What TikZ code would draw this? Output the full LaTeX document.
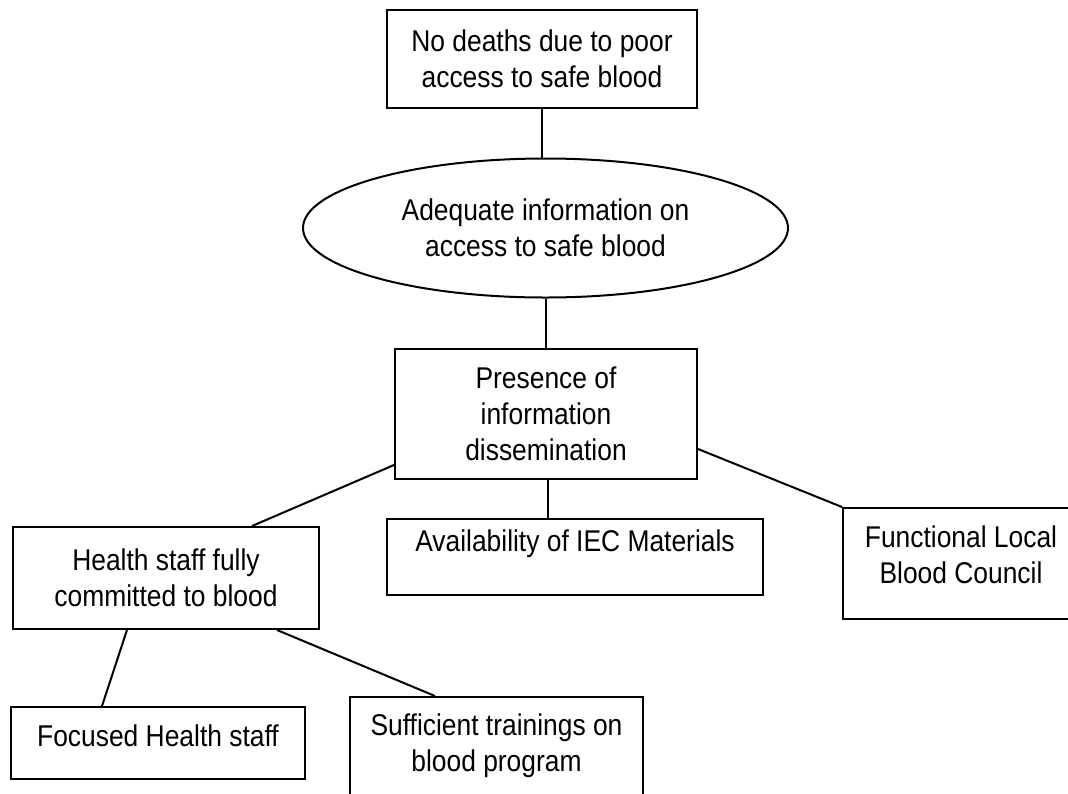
\documentclass[tikz,border=0pt]{standalone}
\usepackage{fontspec}
\setmainfont[FakeStretch=0.88]{Liberation Sans}
\usetikzlibrary{shapes.geometric}
\begin{document}
\begin{tikzpicture}[x=1pt,y=-1pt,
  every node/.style={font=\fontsize{30}{36}\selectfont, align=center, inner sep=0pt},
  box/.style={draw, line width=2pt, rectangle},
  oval/.style={draw, line width=2pt, ellipse},
  link/.style={line width=2pt}]
\useasboundingbox (0,0) rectangle (1068,793);
% boxes
\node[box, minimum width=310pt, minimum height=98pt] (top) at (542,59) {No deaths due to poor\\access to safe blood};
\node[oval, minimum width=485pt, minimum height=139pt] (ell) at (545.5,228) {Adequate information on\\access to safe blood};
\node[box, minimum width=302pt, minimum height=130pt] (pres) at (546,414) {Presence of\\information\\dissemination};
\node[box, minimum width=376pt, minimum height=76pt] (iec) at (575,557) {};
\node[anchor=center] (iecT) at (575,543.5) {Availability of IEC Materials};
\node[box, minimum width=236pt, minimum height=111pt] (func) at (961,563.5) {};
\node[anchor=center] (funcT) at (961,555) {Functional Local\\Blood Council};
\node[box, minimum width=306pt, minimum height=102pt] (health) at (166,578) {Health staff fully\\committed to blood};
\node[box, minimum width=294pt, minimum height=72pt] (focus) at (158,743) {};
\node[anchor=center] (focusT) at (158,736) {Focused Health staff};
\node[box, minimum width=293pt, minimum height=120pt] (suff) at (496.5,757) {};
\node[anchor=center] (suffT) at (496.5,746) {Sufficient trainings on\\blood program};
% connectors
\draw[link] (top.south) -- (ell.north -| top.south);
\draw[link] (ell.south) -- (ell.south |- pres.north);
\draw[link] ([xshift=2pt]pres.south) -- ([xshift=2pt]pres.south |- iec.north);
\draw[link] ([yshift=15pt]pres.south west) -- ([xshift=86pt]health.north);
\draw[link] ([yshift=31pt]pres.south east) -- (func.north west);
\draw[link] ([xshift=-39pt]health.south) -- ([xshift=-56pt]focus.north);
\draw[link] ([xshift=111pt]health.south) -- ([xshift=-61.5pt]suff.north);
\end{tikzpicture}
\end{document}
